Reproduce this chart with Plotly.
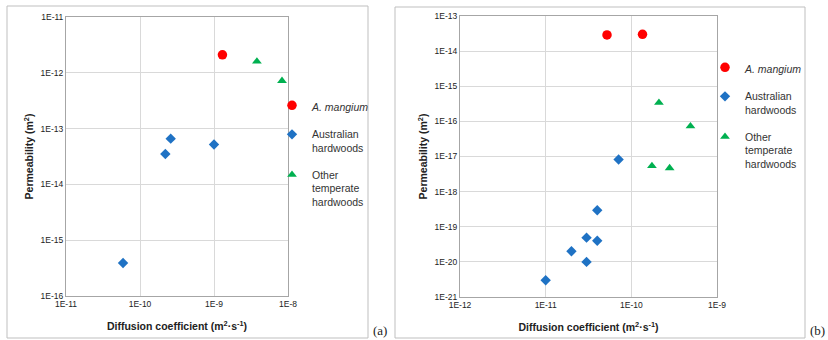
import plotly.graph_objects as go

# Panel (a)
a_mangium_x = [1.3e-9]
a_mangium_y = [2.1e-12]
a_aus_x = [5.9e-11, 2.2e-10, 2.6e-10, 1.0e-9]
a_aus_y = [3.9e-16, 3.5e-14, 6.6e-14, 5.2e-14]
a_oth_x = [3.8e-9, 8.3e-9]
a_oth_y = [1.6e-12, 7.2e-13]

# Panel (b)
b_mangium_x = [5.2e-11, 1.35e-10]
b_mangium_y = [2.9e-14, 3.0e-14]
b_aus_x = [7.1e-11, 4.0e-11, 3.0e-11, 4.0e-11, 2.0e-11, 3.0e-11, 1.0e-11]
b_aus_y = [8.2e-18, 2.95e-19, 4.9e-20, 4.0e-20, 2.0e-20, 1.0e-20, 3.0e-21]
b_oth_x = [2.1e-10, 4.9e-10, 1.74e-10, 2.8e-10]
b_oth_y = [3.4e-16, 7.3e-17, 5.4e-18, 4.7e-18]

a_xticks = [-11, -10, -9, -8]
a_yticks = [-16, -15, -14, -13, -12, -11]
b_xticks = [-12, -11, -10, -9]
b_yticks = [-21, -20, -19, -18, -17, -16, -15, -14, -13]

names = ["<i>A. mangium</i>", "Australian<br>hardwoods", "Other<br>temperate<br>hardwoods"]
RED, BLUE, GREEN = "#FF0000", "#1F72C4", "#00B050"

W, H = 828, 340
def px(x): return x / W
def py(y): return 1 - y / H

fig = go.Figure()
series = [
    ("x", "y", "legend", a_mangium_x, a_mangium_y, a_aus_x, a_aus_y, a_oth_x, a_oth_y),
    ("x2", "y2", "legend2", b_mangium_x, b_mangium_y, b_aus_x, b_aus_y, b_oth_x, b_oth_y),
]
for xa, ya, lg, mx, my, ax_, ay_, ox, oy in series:
    fig.add_trace(go.Scatter(x=mx, y=my, mode="markers", name=names[0], xaxis=xa, yaxis=ya,
                             legend=lg, legendgroup=lg + "1",
                             marker=dict(symbol="circle", size=9.5, color=RED)))
    fig.add_trace(go.Scatter(x=ax_, y=ay_, mode="markers", name=names[1], xaxis=xa, yaxis=ya,
                             legend=lg, legendgroup=lg + "2",
                             marker=dict(symbol="diamond", size=8, color=BLUE)))
    fig.add_trace(go.Scatter(x=ox, y=oy, mode="markers", name=names[2], xaxis=xa, yaxis=ya,
                             legend=lg, legendgroup=lg + "3",
                             marker=dict(symbol="triangle-up", size=8.5, color=GREEN)))

tickfont = dict(family="Liberation Sans, Arial", size=8.5, color="#222222")
def axis(domain, ticks, anchor):
    return dict(type="log", domain=domain, range=[ticks[0], ticks[-1]],
                tickvals=[10 ** t for t in ticks], ticktext=["1E%d" % t for t in ticks],
                tickfont=tickfont, showgrid=True, gridcolor="#D9D9D9", gridwidth=1,
                showline=True, linecolor="#A6A6A6", linewidth=1, mirror=True,
                ticks="", zeroline=False, anchor=anchor, automargin=False)

titlefont = dict(family="Liberation Sans, Arial", size=10.5, color="#222222")
xt = "<b>Diffusion coefficient (m<sup>2</sup>·s<sup>-1</sup>)</b>"
yt = "<b>Permeability (m<sup>2</sup>)</b>"

legfont = dict(family="Liberation Sans, Arial", size=10.5, color="#333333")
fig.update_layout(
    width=W, height=H, margin=dict(l=0, r=0, t=0, b=0),
    paper_bgcolor="white", plot_bgcolor="white",
    xaxis=dict(**axis([px(66), px(288)], a_xticks, "y"),
               title=dict(text=xt, font=titlefont, standoff=14)),
    yaxis=dict(**axis([py(296), py(17)], a_yticks, "x"),
               title=dict(text=yt, font=titlefont, standoff=4)),
    xaxis2=dict(**axis([px(460), px(717)], b_xticks, "y2"),
                title=dict(text=xt, font=titlefont, standoff=14)),
    yaxis2=dict(**axis([py(297), py(16)], b_yticks, "x2"),
                title=dict(text=yt, font=titlefont, standoff=4)),
    legend=dict(x=px(272), y=py(92), xanchor="left", yanchor="top", font=legfont,
                tracegroupgap=10, bgcolor="rgba(0,0,0,0)", itemwidth=30, valign="top"),
    legend2=dict(x=px(705), y=py(54), xanchor="left", yanchor="top", font=legfont,
                 tracegroupgap=10, bgcolor="rgba(0,0,0,0)", itemwidth=30, valign="top"),
    shapes=[
        dict(type="rect", xref="paper", yref="paper", x0=px(7), x1=px(368), y0=py(338), y1=py(6),
             line=dict(color="#BFBFBF", width=1)),
        dict(type="rect", xref="paper", yref="paper", x0=px(395), x1=px(805), y0=py(338), y1=py(7),
             line=dict(color="#BFBFBF", width=1)),
    ],
    annotations=[
        dict(text="(a)", x=px(380), y=py(330), xref="paper", yref="paper", showarrow=False,
             xanchor="center", yanchor="middle",
             font=dict(family="Liberation Serif, Times New Roman", size=13, color="#222222")),
        dict(text="(b)", x=px(817), y=py(330), xref="paper", yref="paper", showarrow=False,
             xanchor="center", yanchor="middle",
             font=dict(family="Liberation Serif, Times New Roman", size=13, color="#222222")),
    ],
)

fig.write_html("out.html", config={"displayModeBar": False},
               post_script="document.body.style.margin='0';document.body.style.overflow='hidden';")
